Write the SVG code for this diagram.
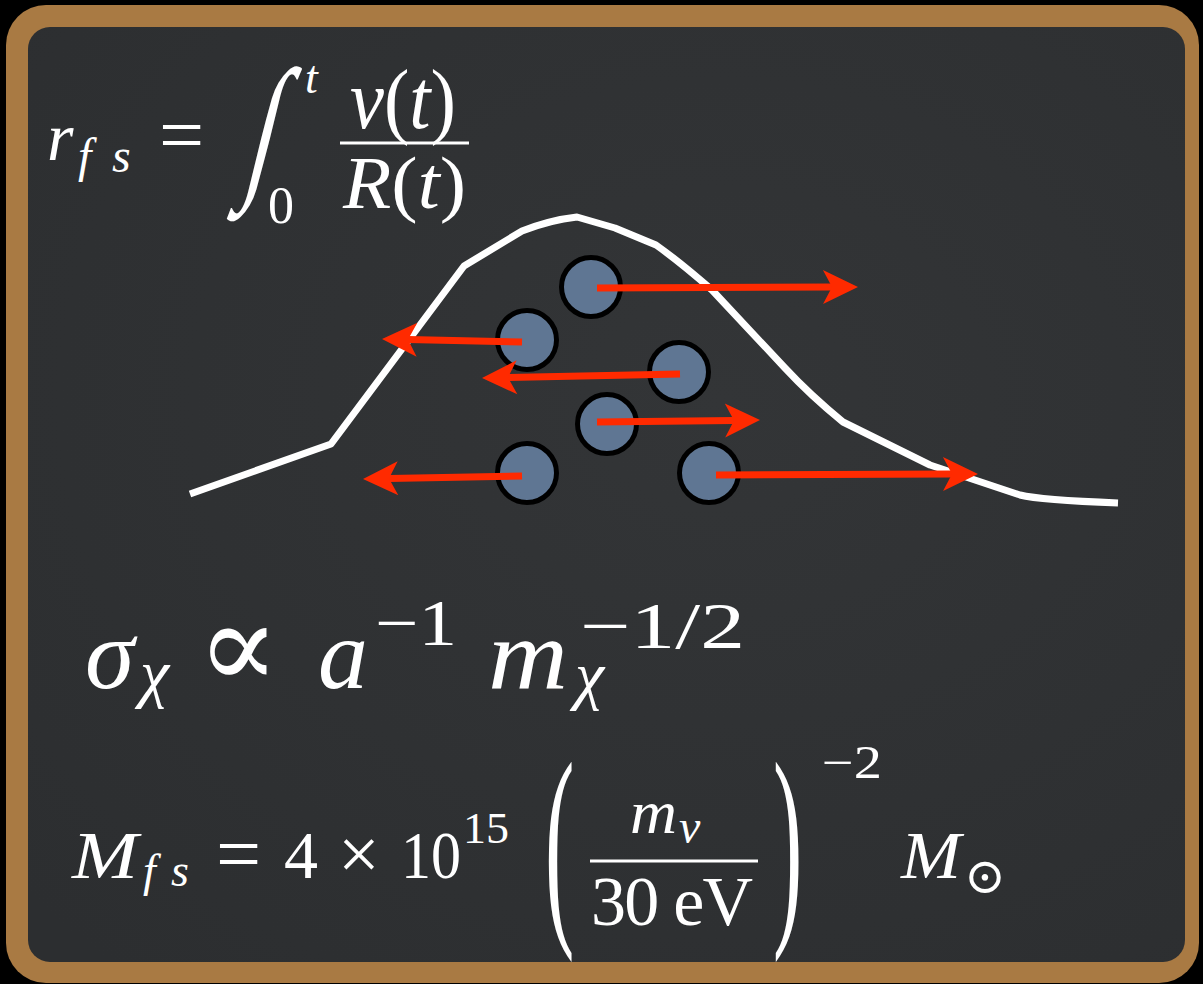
<svg xmlns="http://www.w3.org/2000/svg" width="1203" height="984" viewBox="0 0 1203 984">
<style>
.m{font-family:'Liberation Serif','DejaVu Serif',serif;fill:#ffffff}
.i{font-style:italic}
.dot{fill:#5f7693;stroke:#000;stroke-width:5}
.arr{stroke:#ff2a00;stroke-width:7;fill:none;marker-end:url(#head)}
.bar{stroke:#fff;stroke-width:3}
</style>
<defs>
<marker id="head" markerUnits="userSpaceOnUse" markerWidth="36" markerHeight="34" refX="9" refY="17" orient="auto" overflow="visible">
<path d="M0,0 L35,17 L0,34 L9,17 Z" fill="#ff2a00"/>
</marker>
<radialGradient id="bg" cx="0.6" cy="0.4" r="0.8">
<stop offset="0" stop-color="#333537"/>
<stop offset="1" stop-color="#2c2e30"/>
</radialGradient>
</defs>
<rect x="0" y="0" width="1203" height="984" fill="#000"/>
<g id="frame">
<rect x="6" y="5" width="1193" height="978" rx="40" fill="#a97a43"/>
<rect x="28" y="27" width="1157" height="935" rx="22" fill="url(#bg)"/>
</g>
<g id="eq1">
<text class="m i" x="47" y="160" font-size="68">r</text>
<text class="m i" x="78" y="172" font-size="48">f</text>
<text class="m i" x="112" y="172" font-size="48">s</text>
<text class="m" x="159" y="162" font-size="80">=</text>
<text class="m" x="0" y="0" font-size="100" transform="translate(242,179) skewX(-14) scale(1.0,1.58)">∫</text>
<text class="m i" x="305" y="93" font-size="46">t</text>
<text class="m" x="268" y="223" font-size="52">0</text>
<text class="m" x="350" y="128" font-size="84" textLength="106" lengthAdjust="spacingAndGlyphs"><tspan class="i">v</tspan>(<tspan class="i">t</tspan>)</text>
<line class="bar" x1="340" y1="143" x2="469" y2="143"/>
<text class="m" x="343" y="208" font-size="74" textLength="123" lengthAdjust="spacingAndGlyphs"><tspan class="i">R</tspan>(<tspan class="i">t</tspan>)</text>
</g>
<g id="curve">
<path d="M190,494 L331,444 L464,266 L522,231 Q550,220 577,217 L615,228 L656,245 Q680,262 712,290 L785,368 Q810,395 843,422 L930,465 L1020,495 Q1040,500 1118,503" fill="none" stroke="#fff" stroke-width="7" stroke-linejoin="round"/>
</g>
<g id="particles">
<circle class="dot" cx="591" cy="287" r="29.5"/>
<circle class="dot" cx="527" cy="340" r="29.5"/>
<circle class="dot" cx="679" cy="372" r="29.5"/>
<circle class="dot" cx="607" cy="424" r="29.5"/>
<circle class="dot" cx="527" cy="473" r="29.5"/>
<circle class="dot" cx="709" cy="473" r="29.5"/>
</g>
<g id="connectors">
<line class="arr" x1="597" y1="288" x2="832" y2="287"/>
<line class="arr" x1="522" y1="342" x2="408" y2="339.5"/>
<line class="arr" x1="680" y1="374" x2="508" y2="377.5"/>
<line class="arr" x1="597" y1="422" x2="734" y2="420.4"/>
<line class="arr" x1="522" y1="476" x2="389" y2="478.5"/>
<line class="arr" x1="716" y1="475" x2="952" y2="474"/>
</g>
<g id="eq2">
<text class="m i" x="85" y="688" font-size="100">σ</text>
<text class="m i" x="140" y="695" font-size="66">χ</text>
<text class="m" x="197" y="688" font-size="122">∝</text>
<text class="m i" x="318" y="688" font-size="100">a</text>
<text class="m" x="375" y="645" font-size="66" textLength="82" lengthAdjust="spacingAndGlyphs">−1</text>
<text class="m i" x="488" y="688" font-size="100" textLength="80" lengthAdjust="spacingAndGlyphs">m</text>
<text class="m i" x="575" y="697" font-size="66">χ</text>
<text class="m" x="580" y="648" font-size="66" textLength="165" lengthAdjust="spacingAndGlyphs">−1/2</text>
</g>
<g id="eq3">
<text class="m i" x="72" y="878" font-size="68" textLength="66" lengthAdjust="spacingAndGlyphs">M</text>
<text class="m i" x="143" y="886" font-size="46">f</text>
<text class="m i" x="171" y="886" font-size="46">s</text>
<text class="m" x="216" y="881" font-size="80">=</text>
<text class="m" x="284" y="878" font-size="68">4</text>
<text class="m" x="338" y="879" font-size="74">×</text>
<text class="m" x="401" y="878" font-size="68" textLength="60" lengthAdjust="spacingAndGlyphs">10</text>
<text class="m" x="463" y="843" font-size="44" textLength="46" lengthAdjust="spacingAndGlyphs">15</text>
<text class="m" x="0" y="0" font-size="80" transform="translate(545,915) scale(1.1,2.75)">(</text>
<text class="m i" x="630" y="833" font-size="62" textLength="47" lengthAdjust="spacingAndGlyphs">m</text>
<text class="m i" x="679" y="843" font-size="48">ν</text>
<line class="bar" x1="590" y1="861" x2="758" y2="861"/>
<text class="m" x="591" y="925" font-size="70" textLength="162">30 eV</text>
<text class="m" x="0" y="0" font-size="80" transform="translate(773,915) scale(1.1,2.75)">)</text>
<text class="m" x="822" y="778" font-size="46" textLength="60" lengthAdjust="spacingAndGlyphs">−2</text>
<text class="m i" x="901" y="878" font-size="68" textLength="60" lengthAdjust="spacingAndGlyphs">M</text>
<text class="m" x="964" y="893" font-size="50">⊙</text>
</g>
</svg>
